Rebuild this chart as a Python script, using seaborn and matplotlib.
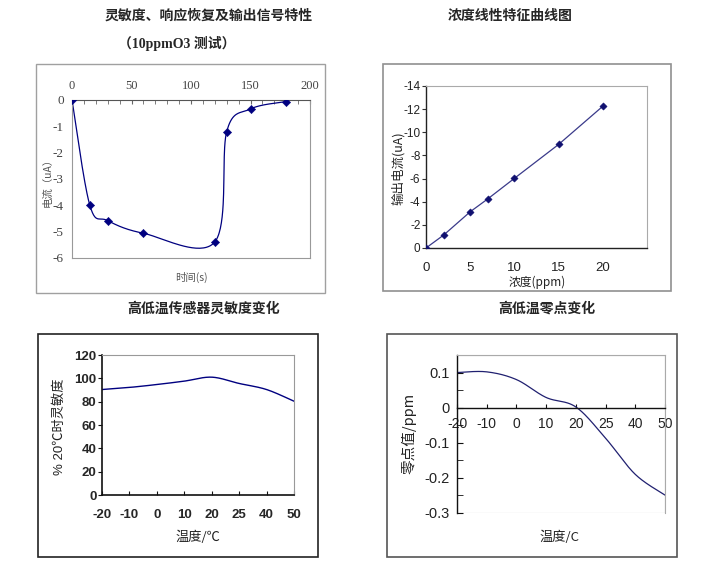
import numpy as np
import matplotlib
matplotlib.use('Agg')
import matplotlib.pyplot as plt
import seaborn as sns
import pandas as pd
from matplotlib.patches import Rectangle
from matplotlib.ticker import MultipleLocator, FixedLocator

# response / recovery test (10ppm O3)
resp_time = [0, 15, 30, 60, 120, 130, 150, 180]
resp_current = [0, -4.0, -4.58, -5.06, -5.39, -1.2, -0.34, -0.06]

# concentration linearity
conc_ppm = [0, 2, 5, 7, 10, 15, 20]
conc_current = [0, -1.12, -3.13, -4.25, -6.02, -8.95, -12.25]

# temperature curves (categorical x)
temp_labels = ['-20', '-10', '0', '10', '20', '25', '40', '50']
sens_pct = [90.4, 92.2, 94.7, 97.6, 101.0, 95.6, 90.4, 80.4]
zero_ppm = [0.100, 0.102, 0.080, 0.029, 0.002, -0.087, -0.190, -0.249]

sns.set_style('white')
plt.rcParams['font.family'] = ['Liberation Sans', 'Noto Sans CJK SC', 'DejaVu Sans']
plt.rcParams['axes.unicode_minus'] = False

W, H = 709, 564
CJK = ['Noto Sans CJK SC', 'DejaVu Sans']
NAVY = '#000080'


def fx(px):
    return px / W


def fy(py):
    return 1 - py / H


# Excel style smoothed line (bezier through the points, in pixel space)
def excel_smooth(xs, ys, kx, ky, n=40):
    p = np.column_stack([np.asarray(xs, float) * kx, np.asarray(ys, float) * ky])
    out = [p[0]]
    t = np.linspace(0, 1, n)[1:, None]
    for i in range(len(p) - 1):
        p0 = p[max(i - 1, 0)]
        p1 = p[i]
        p2 = p[i + 1]
        p3 = p[min(i + 2, len(p) - 1)]
        c1 = p1 + (p2 - p0) / 6
        c2 = p2 - (p3 - p1) / 6
        seg = (1 - t) ** 3 * p1 + 3 * (1 - t) ** 2 * t * c1 + 3 * (1 - t) * t ** 2 * c2 + t ** 3 * p2
        out.extend(seg)
    out = np.array(out)
    return out[:, 0] / kx, out[:, 1] / ky


def frame(x0, y0, x1, y1, color, lw=1.0):
    fig.add_artist(Rectangle((fx(x0), fy(y1)), (x1 - x0) / W, (y1 - y0) / H,
                             transform=fig.transFigure, fill=False,
                             edgecolor=color, lw=lw))


fig = plt.figure(figsize=(7.09, 5.64), dpi=100)

frame(36, 64, 325, 293, '#a0a0a0')
frame(383, 64, 671, 291, '#909090', 1.2)
frame(38, 334, 318, 557, '#222222', 1.2)
frame(387, 334, 677, 557, '#555555', 1.2)

# titles
fig.text(fx(209), fy(16), '灵敏度、响应恢复及输出信号特性', ha='center', va='center',
         fontsize=10, fontweight='bold', family=CJK)
fig.text(fx(177), fy(43), '（10ppmO3 测试）', ha='center', va='center',
         fontsize=10, fontweight='bold', family=['Liberation Serif', 'Noto Sans CJK SC'])
fig.text(fx(510), fy(16), '浓度线性特征曲线图', ha='center', va='center',
         fontsize=10, fontweight='bold', family=CJK)
fig.text(fx(204), fy(309), '高低温传感器灵敏度变化', ha='center', va='center',
         fontsize=10, fontweight='bold', family=CJK)
fig.text(fx(547), fy(309), '高低温零点变化', ha='center', va='center',
         fontsize=10, fontweight='bold', family=CJK)

# ---- panel 1: response curve
ax1 = fig.add_axes([fx(72), fy(258), 238 / W, 158 / H])
df1 = pd.DataFrame({'t': resp_time, 'i': resp_current})
sx, sy = excel_smooth(df1['t'], df1['i'], 238 / 200, 158 / 6)
sns.lineplot(x=sx, y=sy, ax=ax1, color=NAVY, lw=0.9, sort=False, estimator=None)
sns.scatterplot(data=df1, x='t', y='i', ax=ax1, marker='D', s=18, color=NAVY,
                edgecolor=NAVY, zorder=3)
ax1.set_xlim(0, 200)
ax1.set_ylim(-6, 0)
ax1.xaxis.tick_top()
ax1.set_xticks([0, 50, 100, 150, 200])
ax1.xaxis.set_minor_locator(MultipleLocator(10))
ax1.set_yticks(range(-6, 1))
ax1.tick_params(axis='x', which='both', direction='in', length=3, top=True, bottom=False,
                labelsize=9, labelcolor='#444444', color='#666666', pad=6)
ax1.tick_params(axis='y', length=0, labelsize=9.5, labelcolor='#444444', pad=6)
for lab in ax1.get_xticklabels() + ax1.get_yticklabels():
    lab.set_fontfamily('Liberation Serif')
for s in ['left', 'right', 'bottom']:
    ax1.spines[s].set_color('#999999')
    ax1.spines[s].set_linewidth(0.8)
ax1.spines['top'].set_color('#555555')
ax1.set_xlabel('')
ax1.set_ylabel('')
fig.text(fx(191), fy(277), '时间(s)', ha='center', va='center', fontsize=7.5,
         color='#555555', family=CJK)
fig.text(fx(47), fy(180), '电流（uA）', ha='center', va='center', fontsize=7.5,
         color='#555555', rotation=90, family=CJK)

# ---- panel 2: linearity
ax2 = fig.add_axes([fx(426), fy(248), 221 / W, 162 / H])
df2 = pd.DataFrame({'c': conc_ppm, 'i': conc_current})
sns.lineplot(data=df2, x='c', y='i', ax=ax2, color='#3a3a8a', lw=0.9)
sns.scatterplot(data=df2, x='c', y='i', ax=ax2, marker='D', s=14, color='#101070',
                edgecolor='#101070', zorder=3)
ax2.set_xlim(0, 25)
ax2.set_ylim(0, -14)
ax2.set_xticks([0, 5, 10, 15, 20])
ax2.set_yticks(range(0, -15, -2))
ax2.tick_params(axis='x', length=0, labelsize=9.5, labelcolor='#222222', pad=10)
ax2.tick_params(axis='y', direction='out', length=3, labelsize=8.5, labelcolor='#222222',
                color='#333333', left=True, pad=1)
for s in ['left', 'bottom']:
    ax2.spines[s].set_color('#222222')
    ax2.spines[s].set_linewidth(1.0)
for s in ['top', 'right']:
    ax2.spines[s].set_color('#aaaaaa')
    ax2.spines[s].set_linewidth(0.8)
ax2.set_xlabel('')
ax2.set_ylabel('')
fig.text(fx(537), fy(282), '浓度(ppm)', ha='center', va='center', fontsize=8.5,
         color='#222222', family=CJK)
fig.text(fx(398), fy(168), '输出电流(uA)', ha='center', va='center', fontsize=9,
         color='#222222', rotation=90, family=CJK)

# ---- panel 3: sensitivity vs temperature
ax3 = fig.add_axes([fx(102), fy(495), 192 / W, 140 / H])
idx = np.arange(len(temp_labels))
sx, sy = excel_smooth(idx, sens_pct, 192 / 7, 140 / 120)
sns.lineplot(x=sx, y=sy, ax=ax3, color=NAVY, lw=1.0, sort=False, estimator=None)
ax3.set_xlim(0, 7)
ax3.set_ylim(0, 120)
ax3.set_yticks(range(0, 121, 20))
ax3.set_xticks(idx)
ax3.set_xticklabels(temp_labels)
ax3.tick_params(axis='x', direction='in', length=3, bottom=True, labelsize=9.5,
                color='#111111', pad=10)
ax3.tick_params(axis='y', direction='out', length=3, left=True, labelsize=9.5,
                color='#111111', pad=1)
for lab in ax3.get_xticklabels() + ax3.get_yticklabels():
    lab.set_fontweight('bold')
for s in ['left', 'bottom']:
    ax3.spines[s].set_color('#111111')
    ax3.spines[s].set_linewidth(1.2)
for s in ['top', 'right']:
    ax3.spines[s].set_color('#999999')
    ax3.spines[s].set_linewidth(0.8)
ax3.set_xlabel('')
ax3.set_ylabel('')
fig.text(fx(198), fy(537), '温度/℃', ha='center', va='center', fontsize=9.5,
         color='#222222', family=CJK)
fig.text(fx(60), fy(427), '% 20℃时灵敏度', ha='center', va='center', fontsize=9.5,
         color='#222222', rotation=90, family=['Liberation Sans', 'Noto Sans CJK SC'])

# ---- panel 4: zero point vs temperature
ax4 = fig.add_axes([fx(457), fy(513), 208 / W, 158 / H])
sx, sy = excel_smooth(idx, zero_ppm, 208 / 7, 158 / 0.45)
sns.lineplot(x=sx, y=sy, ax=ax4, color='#202070', lw=0.9, sort=False, estimator=None)
ax4.set_xlim(0, 7)
ax4.set_ylim(-0.3, 0.15)
ax4.set_yticks([-0.3, -0.2, -0.1, 0, 0.1])
ax4.set_yticklabels(['-0.3', '-0.2', '-0.1', '0', '0.1'])
ax4.yaxis.set_minor_locator(FixedLocator([-0.25, -0.15, -0.05, 0.05]))
ax4.set_xticks(idx)
ax4.set_xticklabels(temp_labels)
ax4.spines['bottom'].set_position(('data', 0))
ax4.tick_params(axis='x', direction='in', length=3, bottom=True, labelsize=10,
                labelcolor='#222222', color='#111111', pad=7)
ax4.tick_params(axis='y', which='both', direction='in', length=4, left=True,
                labelsize=10.5, labelcolor='#222222', color='#111111', pad=5)
for s in ['left', 'bottom']:
    ax4.spines[s].set_color('#111111')
    ax4.spines[s].set_linewidth(1.0)
for s in ['top', 'right']:
    ax4.spines[s].set_color('#aaaaaa')
    ax4.spines[s].set_linewidth(0.8)
ax4.add_patch(Rectangle((0, 0), 1, 1, transform=ax4.transAxes, fill=False,
                        edgecolor='#aaaaaa', lw=0.8, zorder=0))
ax4.set_xlabel('')
ax4.set_ylabel('')
fig.text(fx(559), fy(537), '温度/C', ha='center', va='center', fontsize=9.5,
         color='#222222', family=CJK)
fig.text(fx(409), fy(433), '零点值/ppm', ha='center', va='center', fontsize=10.5,
         color='#222222', rotation=90, family=CJK)

fig.savefig('out.png', dpi=100)
